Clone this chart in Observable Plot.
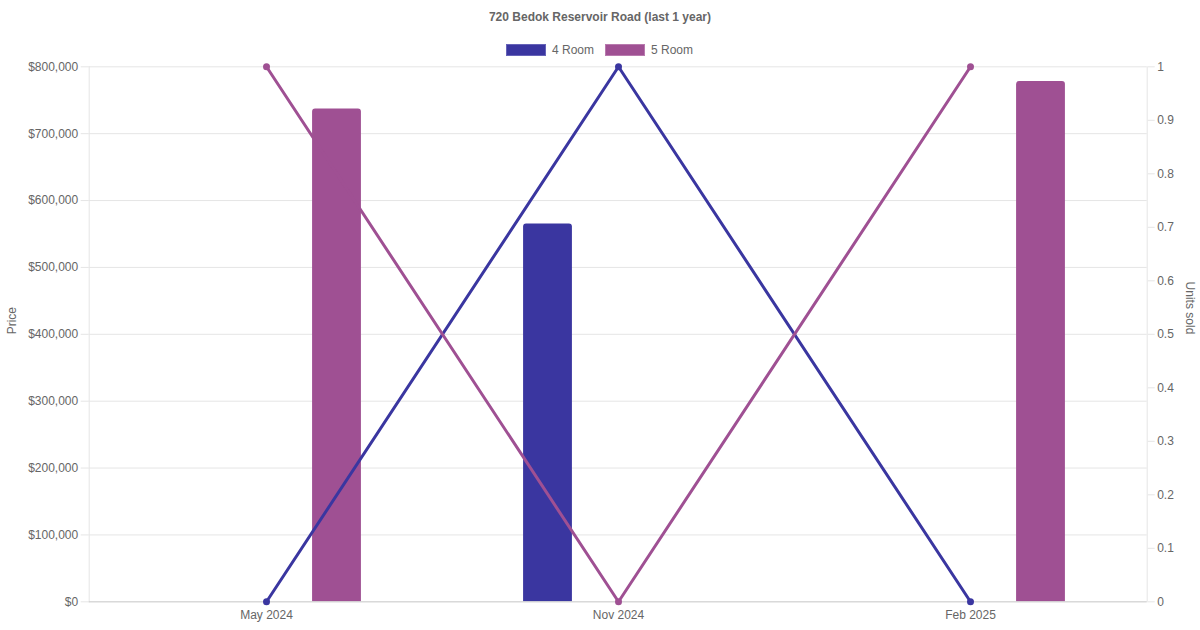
<!DOCTYPE html>
<html>
<head>
<meta charset="utf-8">
<script src="https://cdn.jsdelivr.net/npm/d3@7"></script>
<script src="https://cdn.jsdelivr.net/npm/@observablehq/plot@0.6"></script>
<style>
  body { margin: 0; background: #fff; font-family: "Liberation Sans", Arial, Helvetica, sans-serif; }
  #wrap { position: relative; width: 1200px; height: 630px; overflow: hidden; }
  #header { position: relative; width: 1200px; height: 60px; }
  #title { position: absolute; left: 0; width: 1200px; top: 10.5px; line-height: 12px; font-size: 12px; font-weight: bold; color: #666; text-align: center; }
  .sw { position: absolute; top: 43.5px; width: 40px; height: 12.5px; box-sizing: border-box; }
  .lt { position: absolute; top: 44px; line-height: 12px; font-size: 12px; color: #666; white-space: nowrap; }
  #chart svg { display: block; }
</style>
</head>
<body>
<div id="wrap">
  <div id="header">
    <div id="title"></div>
  </div>
  <div id="chart"></div>
</div>
<script>
// ---- data ----
const chartTitle = "720 Bedok Reservoir Road (last 1 year)";
const months = ["May 2024", "Nov 2024", "Feb 2025"];
const seriesNames = ["4 Room", "5 Room"];
const fourRoomPrice = [null, 565000, null];
const fiveRoomPrice = [737000, null, 778000];
const fourRoomUnits = [0, 1, 0];
const fiveRoomUnits = [1, 0, 1];
const priceTicks = [0, 100000, 200000, 300000, 400000, 500000, 600000, 700000, 800000];
const unitTicks = [0, 0.1, 0.2, 0.3, 0.4, 0.5, 0.6, 0.7, 0.8, 0.9, 1];
const priceAxisLabel = "Price";
const unitAxisLabel = "Units sold";

// ---- styles ----
const colors = ["#3a36a0", "#9f5093"];
const borderColors = ["#6663b8", "#b87aae"];
const priceMax = 800000;
const unitMax = 1;
const toPrice = u => u / unitMax * priceMax;

// header
document.getElementById("title").textContent = chartTitle;
const header = document.getElementById("header");
const swLeft = [506, 605];
const ltLeft = [552, 651];
seriesNames.forEach((name, i) => {
  const sw = document.createElement("div");
  sw.className = "sw";
  sw.style.left = swLeft[i] + "px";
  sw.style.background = colors[i];
  sw.style.border = "1px solid " + borderColors[i];
  header.appendChild(sw);
  const lt = document.createElement("div");
  lt.className = "lt";
  lt.style.left = ltLeft[i] + "px";
  lt.textContent = name;
  header.appendChild(lt);
});

// tables
const priceRows = (vals, s) => months.map((m, i) => ({month: m, price: vals[i], series: s})).filter(d => d.price != null);
const unitRows = (vals, s) => months.map((m, i) => ({month: m, units: vals[i], series: s}));
const bars4 = priceRows(fourRoomPrice, seriesNames[0]);
const bars5 = priceRows(fiveRoomPrice, seriesNames[1]);
const line4 = unitRows(fourRoomUnits, seriesNames[0]);
const line5 = unitRows(fiveRoomUnits, seriesNames[1]);

const W = 1200, H = 570;
const mL = 88.7, mR = 53.3, mT = 6.3, mB = 28.7;
const bandW = (W - mL - mR) / months.length;
const barW = 49.5;
const inset = (bandW - barW) / 2;
const off = 70.5;

const chart = Plot.plot({
  width: W,
  height: H,
  marginLeft: mL,
  marginRight: mR,
  marginTop: mT,
  marginBottom: mB,
  style: { fontFamily: '"Liberation Sans", Arial, Helvetica, sans-serif', fontSize: "12px", background: "#fff", overflow: "visible" },
  x: { type: "band", domain: months, padding: 0 },
  y: { domain: [0, priceMax] },
  marks: [
    Plot.gridY(priceTicks, { stroke: "#e5e5e5", strokeOpacity: 1 }),
    Plot.frame({ stroke: "#e5e5e5", strokeOpacity: 1, anchor: "left" }),
    Plot.frame({ stroke: "#e5e5e5", strokeOpacity: 1, anchor: "right" }),
    Plot.barY(bars4, { x: "month", y: "price", fill: colors[0], dx: -off, insetLeft: inset, insetRight: inset, ry1: 3 }),
    Plot.barY(bars5, { x: "month", y: "price", fill: colors[1], dx: off, insetLeft: inset, insetRight: inset, ry1: 3 }),
    Plot.ruleY([0], { stroke: "#d0d0d0", strokeOpacity: 1 }),
    Plot.line(line4, { x: "month", y: d => toPrice(d.units), stroke: colors[0], strokeWidth: 3 }),
    Plot.line(line5, { x: "month", y: d => toPrice(d.units), stroke: colors[1], strokeWidth: 3 }),
    Plot.dot(line4, { x: "month", y: d => toPrice(d.units), fill: colors[0], r: 3.5 }),
    Plot.dot(line5, { x: "month", y: d => toPrice(d.units), fill: colors[1], r: 3.5 }),
    Plot.axisY(priceTicks, { anchor: "left", label: null, tickSize: 8, tickPadding: 3, stroke: "#e5e5e5", fill: "#666", tickFormat: d => "$" + d3.format(",")(d) }),
    Plot.axisY(unitTicks.map(toPrice), { anchor: "right", label: null, tickSize: 7, tickPadding: 3, stroke: "#e5e5e5", fill: "#666", tickFormat: d => String(Math.round(d / priceMax * unitMax * 10) / 10) }),
    Plot.axisX({ anchor: "bottom", label: null, tickSize: 0, tickPadding: 9, fill: "#666" }),
    Plot.text([priceAxisLabel], { frameAnchor: "left", text: d => d, rotate: -90, dx: -77, fill: "#666", fontSize: 12 }),
    Plot.text([unitAxisLabel], { frameAnchor: "right", text: d => d, rotate: 90, dx: 42.5, fill: "#666", fontSize: 12 })
  ]
});
document.getElementById("chart").appendChild(chart);
</script>
</body>
</html>
